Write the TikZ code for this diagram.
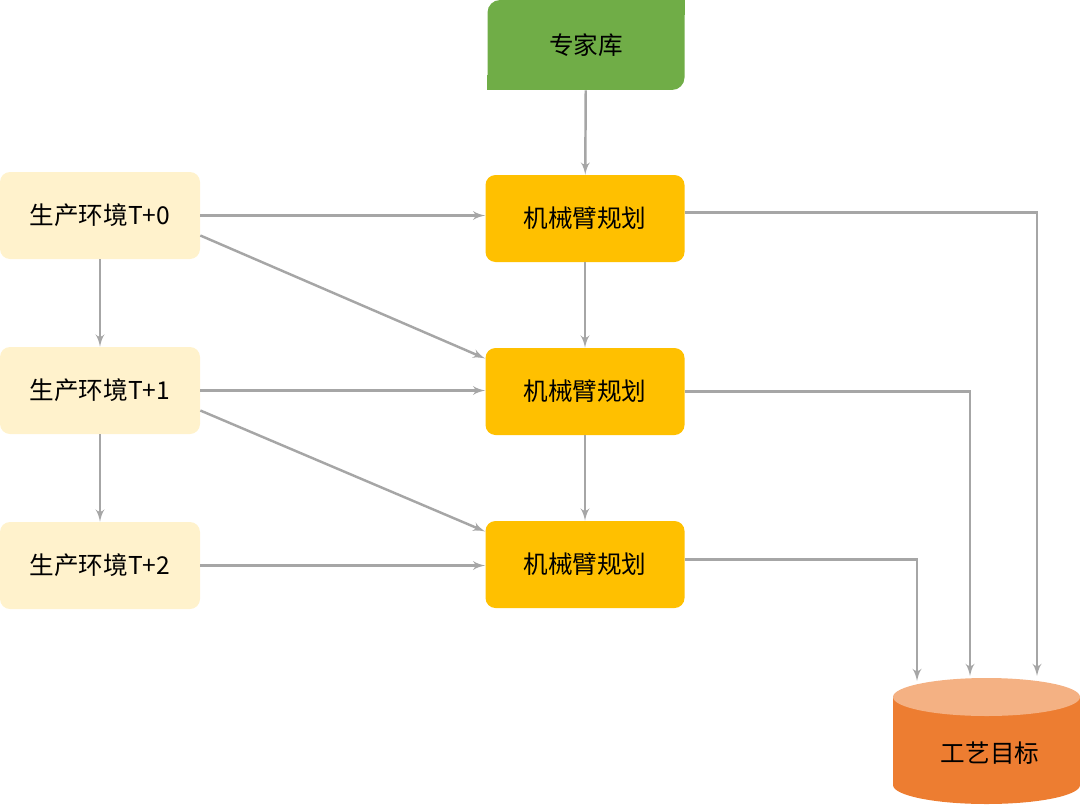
\documentclass[tikz,border=0pt]{standalone}
\usepackage{xcolor}
\usepackage{fontspec}
\setmainfont{Noto Sans CJK SC}
\usepackage{tikz}
\usetikzlibrary{arrows,positioning}

\definecolor{libgreen}{HTML}{70AD47}
\definecolor{plangold}{HTML}{FFC000}
\definecolor{envcream}{HTML}{FFF2CC}
\definecolor{dbbody}{HTML}{ED7D31}
\definecolor{dbtop}{HTML}{F4B183}
\definecolor{linkgray}{HTML}{A6A6A6}

\begin{document}
\begin{tikzpicture}[>=latex',font=\fontsize{14}{16}\selectfont,node distance=3.46cm,
		env/.style={fill=envcream,rounded corners=0.2cm,minimum width=4cm,minimum height=1.74cm},
		plan/.style={fill=plangold,rounded corners=0.2cm,minimum width=3.98cm,minimum height=1.74cm},
		link/.style={draw,color=linkgray,line width=1.4pt}]
		\useasboundingbox (0,0) rectangle (21.6,-16.08);

		\node[fill=libgreen,rounded corners=0.25cm,minimum width=3.94cm,minimum height=1.8cm] (lib) at (11.72,-0.9) {专家库};
		\fill[libgreen] (lib.north east) rectangle ++(-0.3,-0.3);
		\fill[libgreen] (lib.south west) rectangle ++(0.3,0.3);

		\node[plan] (m0) at (11.7,-4.37) {机械臂规划};
		\node[plan] (m1) [below of=m0] {机械臂规划};
		\node[plan] (m2) [below of=m1] {机械臂规划};

		\node[env] (e0) [left of=m0,node distance=9.7cm,yshift=0.06cm] {生产环境T+0};
		\node[env] (e1) [below of=e0,node distance=3.5cm] {生产环境T+1};
		\node[env] (e2) [below of=e1,node distance=3.5cm] {生产环境T+2};

		% 工艺目标
		\fill[dbbody] (17.86,-13.94) -- (17.86,-15.7) arc[start angle=180,end angle=360,x radius=1.87cm,y radius=0.38cm] -- (21.6,-13.94) -- cycle;
		\fill[dbtop] (19.73,-13.94) ellipse[x radius=1.87cm,y radius=0.38cm];
		\node (db) at (19.8,-15.06) {工艺目标};
		\coordinate (d0) at (20.74,-13.52);
		\coordinate (d1) at (19.4,-13.52);
		\coordinate (d2) at (18.34,-13.62);

		\path[->] (lib) edge[link] (m0);
		\path[->] (m0) edge[link] (m1);
		\path[->] (m1) edge[link] (m2);
		\path[->] (e0) edge[link] (e1);
		\path[->] (e1) edge[link] (e2);

		\draw[->,link] (e0.east) -- (m0.west |- e0.east);
		\draw[->,link] (e1.east) -- (m1.west |- e1.east);
		\draw[->,link] (e2.east) -- (m2.west |- e2.east);
		\draw[->,link] ([yshift=-0.4cm]e0.east) -- ([yshift=0.66cm]m1.west);
		\draw[->,link] ([yshift=-0.4cm]e1.east) -- ([yshift=0.66cm]m2.west);

		\draw[->,link] ([yshift=0.12cm]m0.east) -| (d0);
		\draw[->,link] (m1.east) -| (d1);
		\draw[->,link] ([yshift=0.1cm]m2.east) -| (d2);
	\end{tikzpicture}
\end{document}
